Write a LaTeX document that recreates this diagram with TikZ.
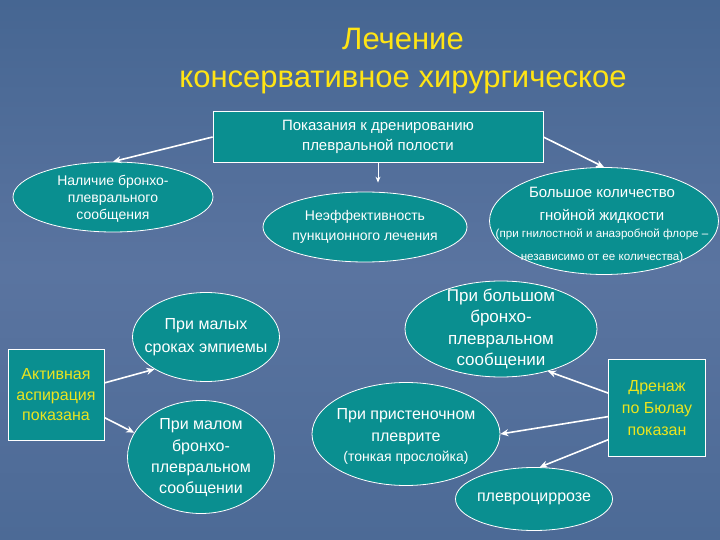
\documentclass[tikz,border=0pt]{standalone}
\usepackage{fontspec}
\setmainfont{Liberation Sans}
\usetikzlibrary{shapes.geometric,arrows.meta}
\definecolor{bgtop}{RGB}{70,102,146}
\definecolor{bgmid}{RGB}{90,116,160}
\definecolor{bgbot}{RGB}{76,106,150}
\definecolor{tealfill}{RGB}{10,143,144}
\definecolor{ttlyellow}{RGB}{255,228,20}
\definecolor{boxyellow}{RGB}{236,228,30}
\tikzset{
  ell/.style={ellipse, draw=white, line width=0.8pt, fill=tealfill, inner sep=0pt},
  lbl/.style={text=white, align=center, inner sep=0pt},
  rbox/.style={rectangle, draw=white, line width=0.8pt, fill=tealfill, inner sep=0pt, align=center},
  arr/.style={draw=white, line width=1.6pt, -{Stealth[length=8pt,width=7pt]}}
}
\begin{document}
\begin{tikzpicture}[x=1pt,y=-1pt]
\useasboundingbox (0,0) rectangle (720,540);
\fill[top color=bgtop, bottom color=bgmid] (0,0) rectangle (720,270);
\fill[top color=bgmid, bottom color=bgbot] (0,270) rectangle (720,540);

% title
\node[text=ttlyellow, font=\fontsize{31}{38}\selectfont, align=center] (t1) at (403,61) {Лечение\\консервативное хирургическое};

% top box
\node[rbox, text=white, minimum width=330pt, minimum height=51pt, font=\fontsize{15}{20}\selectfont] (top) at (378,137) {Показания к дренированию\\плевральной полости};

% ellipses
\node[ell, minimum width=200pt, minimum height=70pt,
  label={[lbl, font=\fontsize{14}{17}\selectfont, yshift=-2pt]center:{Наличие бронхо-\\плеврального\\сообщения}}] (e1) at (113,197) {};
\node[ell, minimum width=204pt, minimum height=70pt,
  label={[lbl, font=\fontsize{14}{20}\selectfont]center:{Неэффективность\\пункционного лечения}}] (e2) at (365,227) {};
\node[ell, minimum width=229pt, minimum height=107pt,
  label={[lbl, font=\fontsize{15}{23}\selectfont, xshift=-2pt, yshift=-4pt]center:{Большое количество\\гнойной жидкости\\[-6pt]{\fontsize{11.6}{14}\selectfont (при гнилостной и анаэробной флоре –}\\[0pt]{\fontsize{11.6}{14}\selectfont независимо от ее количества)}}}] (e3) at (604,221) {};
\node[ell, minimum width=147pt, minimum height=89pt,
  label={[lbl, font=\fontsize{16}{23}\selectfont]center:{При малых\\сроках эмпиемы}}] (e4) at (206,337) {};
\node[ell, minimum width=147pt, minimum height=113pt,
  label={[lbl, font=\fontsize{16}{21.3}\selectfont, yshift=-1pt]center:{При малом\\бронхо-\\плевральном\\сообщении}}] (e5) at (201,457) {};
\node[ell, minimum width=192pt, minimum height=96pt,
  label={[lbl, font=\fontsize{17}{21.5}\selectfont]center:{При большом\\бронхо-\\плевральном\\сообщении}}] (e6) at (501,329) {};
\node[ell, minimum width=188pt, minimum height=103pt,
  label={[lbl, font=\fontsize{16}{22}\selectfont, yshift=-2pt]center:{При пристеночном\\плеврите\\[-2pt]{\fontsize{14}{18}\selectfont (тонкая прослойка)}}}] (e7) at (406,434) {};
\node[ell, minimum width=157pt, minimum height=63pt,
  label={[lbl, font=\fontsize{16}{20}\selectfont]center:{плевроциррозе}}] (e9) at (534,499) {};

% side boxes
\node[rbox, text=boxyellow, minimum width=96pt, minimum height=91pt, font=\fontsize{16}{20.5}\selectfont] (akt) at (56,395) {Активная\\аспирация\\показана};
\node[rbox, text=boxyellow, minimum width=97pt, minimum height=97pt, font=\fontsize{16}{22}\selectfont] (dren) at (657,408) {Дренаж\\по Бюлау\\показан};

% connectors
\draw[arr] (top.west) -- (e1.north);
\draw[arr] (top.east) -- (e3.north);
\draw[arr, line width=1pt, -{Stealth[length=6pt,width=5pt]}, shorten >=9pt] (top.south) -- (top.south |- e2.north);
\draw[arr] (akt.14) -- (e4.212);
\draw[arr] (akt.-25) -- (e5.160);
\draw[arr] (dren.163) -- (e6.-42);
\draw[arr] (dren.190) -- (e7.east);
\draw[arr] (dren.213) -- (e9.80);
\end{tikzpicture}
\end{document}
